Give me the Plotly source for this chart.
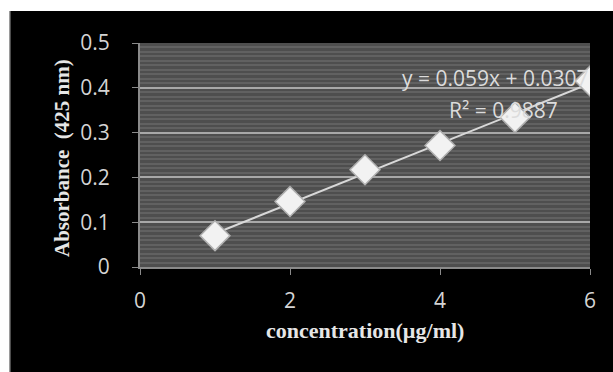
import numpy as np
import plotly.graph_objects as go

concentration = [1, 2, 3, 4, 5, 6]
absorbance = [0.070, 0.146, 0.217, 0.271, 0.334, 0.415]
x_ticks = [0, 2, 4, 6]
y_ticks = [0, 0.1, 0.2, 0.3, 0.4, 0.5]
eq_text = "y = 0.059x + 0.0307"
r2_text = "R² = 0.9887"
x_title = "concentration(µg/ml)"
y_title = "Absorbance  (425 nm)"

W, H = 613, 372
L, R, T, B = 140, 23, 43, 105
pw, ph = W - L - R, H - T - B

slope, intercept = np.polyfit(concentration, absorbance, 1)
trend_x = [min(concentration), max(concentration)]
trend_y = [slope * v + intercept for v in trend_x]

def px_x(p):
    return (p - L) / pw

def px_y(p):
    return (H - B - p) / ph

fig = go.Figure()
fig.add_trace(go.Scatter(
    x=trend_x, y=trend_y, mode="lines",
    line=dict(color="#d8d8d8", width=2), hoverinfo="skip", showlegend=False))
fig.add_trace(go.Scatter(
    x=concentration, y=absorbance, mode="markers",
    marker=dict(symbol="diamond", size=23, color="#f2f2f2",
                line=dict(color="#b0b0b0", width=1.5)),
    showlegend=False))

tick_font = dict(family="Open Sans, Liberation Sans, sans-serif", size=21, color="#d4d4d4")
fig.update_layout(
    width=W, height=H,
    margin=dict(l=L, r=R, t=T, b=B, autoexpand=False),
    paper_bgcolor="#000000", plot_bgcolor="#4e4e4e",
    xaxis=dict(range=[0, 6], tickvals=x_ticks, ticks="outside", ticklen=6,
               tickcolor="#8a8a8a", showgrid=False, zeroline=False,
               showline=True, linecolor="#8a8a8a", linewidth=2,
               tickfont=tick_font, ticklabelstandoff=8),
    yaxis=dict(range=[0, 0.5], tickvals=y_ticks, ticks="outside", ticklen=6,
               tickcolor="#8a8a8a", showgrid=True, gridcolor="#a8a8a8", gridwidth=2,
               zeroline=False, showline=True, linecolor="#8a8a8a", linewidth=2,
               tickfont=tick_font, ticklabelstandoff=18,
               minor=dict(dtick=0.01, showgrid=True, gridcolor="#616161", gridwidth=1.5)),
    shapes=[
        dict(type="rect", xref="paper", yref="paper",
             x0=px_x(0), x1=px_x(9), y0=px_y(H), y1=px_y(0),
             fillcolor="#ffffff", line=dict(width=0), layer="above"),
        dict(type="rect", xref="paper", yref="paper",
             x0=px_x(0), x1=px_x(W), y0=px_y(11), y1=px_y(0),
             fillcolor="#ffffff", line=dict(width=0), layer="above"),
        dict(type="rect", xref="paper", yref="paper",
             x0=px_x(9), x1=px_x(10.5), y0=px_y(H), y1=px_y(11),
             fillcolor="#9a9a9a", line=dict(width=0), layer="above"),
    ],
    annotations=[
        dict(text=eq_text, xref="paper", yref="paper", x=px_x(400), y=px_y(78),
             xanchor="left", yanchor="middle", showarrow=False,
             font=dict(family="Open Sans, sans-serif", size=21, color="#dcdcdc")),
        dict(text=r2_text, xref="paper", yref="paper", x=px_x(447), y=px_y(110),
             xanchor="left", yanchor="middle", showarrow=False,
             font=dict(family="Open Sans, sans-serif", size=21, color="#dcdcdc")),
        dict(text="<b>" + x_title + "</b>", xref="paper", yref="paper",
             x=px_x(365), y=px_y(330), xanchor="center", yanchor="middle",
             showarrow=False,
             font=dict(family="Liberation Serif, serif", size=22, color="#e6e6e6")),
        dict(text="<b>" + y_title + "</b>", xref="paper", yref="paper",
             x=px_x(62), y=px_y(158), xanchor="center", yanchor="middle",
             textangle=-90, showarrow=False,
             font=dict(family="Liberation Serif, serif", size=21, color="#e6e6e6")),
    ],
)
fig.write_html("out.html")
